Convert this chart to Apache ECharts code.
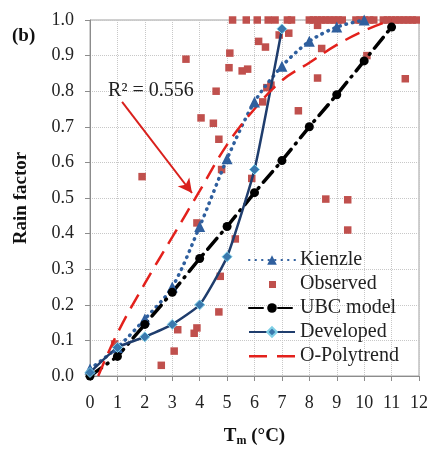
<!DOCTYPE html>
<html>
<head>
<meta charset="utf-8">
<script src="https://cdn.jsdelivr.net/npm/echarts@6/dist/echarts.min.js"></script>
<style>
  html, body { margin: 0; padding: 0; background: #fff; }
  #chart { width: 432px; height: 454px; }
</style>
</head>
<body>
<div id="chart"></div>
<script>
// Kienzle 模型
const kienzleX = [0, 1, 2, 3, 4, 5, 6, 7, 8, 9, 10];
const kienzleY = [0.02, 0.08, 0.16, 0.25, 0.42, 0.61, 0.77, 0.87, 0.94, 0.98, 1.0];

// UBC model
const ubcX = [0, 1, 2, 3, 4, 5, 6, 7, 8, 9, 10, 11];
const ubcY = [0, 0.055, 0.145, 0.235, 0.33, 0.42, 0.515, 0.605, 0.70, 0.79, 0.885, 0.98];

// Developed
const devX = [0, 1, 2, 3, 4, 5, 6, 7];
const devY = [0.01, 0.08, 0.11, 0.145, 0.2, 0.335, 0.58, 0.975];

// O-Polytrend
const polyX = [0.3, 1, 2, 3, 4, 5, 6, 7, 8, 9, 10, 11];
const polyY = [0, 0.12, 0.26, 0.39, 0.52, 0.65, 0.75, 0.83, 0.88, 0.93, 0.97, 1.0];

// Observed 观测点
const obsX = [0.9, 2.6, 3.07, 3.2, 3.8, 3.9, 1.9, 3.5, 3.9, 4.05, 4.5, 4.6, 4.7, 4.8, 4.75, 4.7, 5.3, 5.9,
  5.07, 5.1, 5.55, 5.75, 6.15, 6.4, 6.3, 6.45, 6.6, 6.9, 7.25, 7.6, 8.3, 8.3, 8.45, 8.6, 9.4, 9.4, 10.1, 11.5,
  5.2, 5.7, 6.1, 6.5, 6.75, 7.2, 7.35, 8.0, 8.15, 8.3, 8.45, 8.6, 8.75, 8.9, 9.05, 9.2, 9.7, 9.85, 10.0,
  10.2, 10.35, 10.7, 10.85, 11.0, 11.15, 11.3, 11.45, 11.6, 11.75, 11.9];
const obsY = [0.09, 0.03, 0.07, 0.13, 0.12, 0.135, 0.56, 0.89, 0.43, 0.725, 0.71, 0.80, 0.665, 0.58, 0.28, 0.18, 0.385, 0.555,
  0.866, 0.907, 0.857, 0.862, 0.94, 0.924, 0.77, 0.81, 0.817, 0.958, 0.963, 0.745, 0.837, 0.985, 0.92, 0.497, 0.495, 0.41, 0.9, 0.835,
  1, 1, 1, 1, 1, 1, 1, 1, 1, 1, 1, 1, 1, 1, 1, 1, 1, 1, 1,
  1, 1, 1, 1, 1, 1, 1, 1, 1, 1, 1];

// 坐标轴刻度
const xTicks = [0, 1, 2, 3, 4, 5, 6, 7, 8, 9, 10, 11, 12];
const yTicks = [0, 0.1, 0.2, 0.3, 0.4, 0.5, 0.6, 0.7, 0.8, 0.9, 1.0];

// R² 标注
const r2Text = 'R² = 0.556';
const r2Pos = [2.22, 0.80];
const arrowFrom = [1.17, 0.77];
const arrowTo = [3.72, 0.514];

const pairs = (xs, ys) => xs.map((x, i) => [x, ys[i]]);

const font = 'Liberation Serif';
const chart = echarts.init(document.getElementById('chart'));

chart.setOption({
  animation: false,
  textStyle: { fontFamily: font },
  grid: { left: 90, right: 13, top: 20, bottom: 78, show: true, borderColor: '#a0a0a0', borderWidth: 1 },
  graphic: [
    { type: 'text', left: 12, top: 27, style: { text: '(b)', font: 'bold 19px ' + font, fill: '#111' } }
  ],
  legend: {
    orient: 'vertical',
    left: 243,
    top: 245,
    itemWidth: 46,
    itemHeight: 12,
    itemGap: 4,
    textStyle: { fontSize: 20, color: '#222', fontFamily: font },
    data: [
      'Kienzle',
      { name: 'Observed', icon: 'path://M0,0M46,12M20,3h7v7h-7z' },
      'UBC model',
      'Developed',
      { name: 'O-Polytrend', icon: 'path://M0,0M46,12M0,5h18v2.5h-18zM28,5h18v2.5h-18z' }
    ]
  },
  xAxis: {
    type: 'value',
    min: xTicks[0],
    max: xTicks[xTicks.length - 1],
    interval: 1,
    name: '{b|T}{s|m}{b| (°C)}',
    nameLocation: 'middle',
    nameGap: 50,
    nameTextStyle: {
      rich: {
        b: { fontSize: 19, fontWeight: 'bold', fontFamily: font, color: '#111' },
        s: { fontSize: 12, fontWeight: 'bold', fontFamily: font, color: '#111', verticalAlign: 'bottom', padding: [9, 0, 0, 0] }
      }
    },
    axisLine: { lineStyle: { color: '#8c8c8c' } },
    axisTick: { show: true, length: 5, lineStyle: { color: '#8c8c8c' } },
    axisLabel: { fontSize: 18, color: '#222', margin: 18 },
    splitLine: { show: true, lineStyle: { type: 'dotted', color: '#c8c8c8' } }
  },
  yAxis: {
    type: 'value',
    min: yTicks[0],
    max: yTicks[yTicks.length - 1],
    interval: 0.1,
    name: 'Rain factor',
    nameLocation: 'middle',
    nameGap: 59,
    nameTextStyle: { fontSize: 19, fontWeight: 'bold', color: '#111', fontFamily: font },
    axisLine: { show: true, lineStyle: { color: '#8c8c8c' } },
    axisTick: { show: true, length: 5, lineStyle: { color: '#8c8c8c' } },
    axisLabel: { fontSize: 18, color: '#222', margin: 16, formatter: v => v.toFixed(1) },
    splitLine: { show: true, lineStyle: { type: 'dotted', color: '#c8c8c8' } }
  },
  series: [
    {
      name: 'Kienzle',
      type: 'line',
      smooth: 0.3,
      data: pairs(kienzleX, kienzleY),
      symbol: 'triangle',
      symbolSize: 11,
      itemStyle: { color: '#2f5f9e' },
      lineStyle: { color: '#2f5f9e', width: 3.5, type: [0.5, 6], cap: 'round' }
    },
    {
      name: 'Observed',
      type: 'scatter',
      data: pairs(obsX, obsY),
      symbol: 'rect',
      symbolSize: 7.5,
      itemStyle: { color: '#c0504d', opacity: 1 }
    },
    {
      name: 'UBC model',
      type: 'line',
      data: pairs(ubcX, ubcY),
      symbol: 'circle',
      symbolSize: 9,
      itemStyle: { color: '#000' },
      lineStyle: { color: '#000', width: 3.5, type: [14, 7, 1, 7], cap: 'round' }
    },
    {
      name: 'Developed',
      type: 'line',
      smooth: 0.15,
      data: pairs(devX, devY),
      symbol: 'diamond',
      symbolSize: 10,
      itemStyle: { color: '#3a78ad', borderColor: '#7fd0e6', borderWidth: 1 },
      lineStyle: { color: '#1f3d6d', width: 2.5 }
    },
    {
      name: 'O-Polytrend',
      type: 'line',
      smooth: 0.4,
      data: pairs(polyX, polyY),
      showSymbol: false,
      symbol: 'none',
      itemStyle: { color: '#e3211c' },
      lineStyle: { color: '#e3211c', width: 2.5, type: [16, 9] }
    },
    {
      name: 'annotation',
      type: 'line',
      data: [],
      markLine: {
        silent: true,
        symbol: ['none', 'arrow'],
        symbolSize: [11, 14],
        label: { show: false },
        lineStyle: { color: '#d9201c', width: 2, type: 'solid' },
        data: [[{ coord: arrowFrom }, { coord: arrowTo }]]
      },
      markPoint: {
        silent: true,
        symbol: 'circle',
        symbolSize: 0,
        label: { show: true, position: 'inside', formatter: r2Text, fontSize: 20, color: '#222', fontFamily: font },
        data: [{ coord: r2Pos }]
      }
    }
  ]
});
</script>
</body>
</html>
